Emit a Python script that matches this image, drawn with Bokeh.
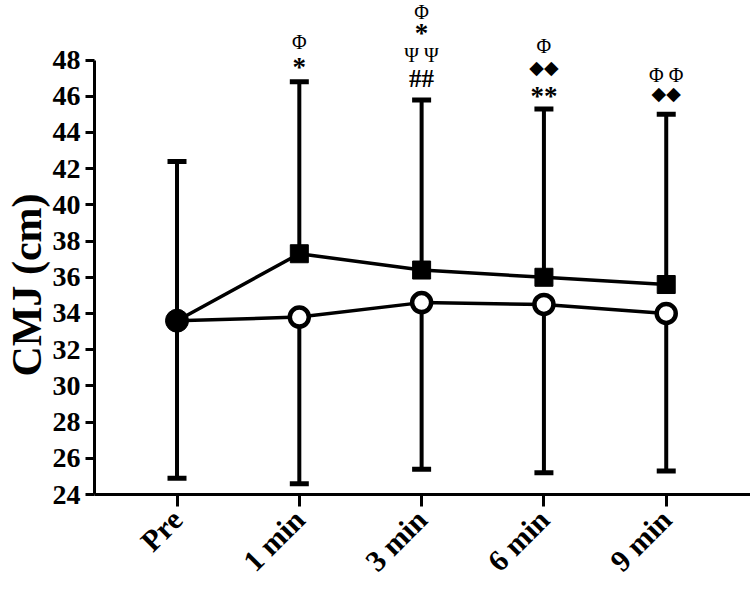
import numpy as np
from bokeh.plotting import figure
from bokeh.models import ColumnDataSource, Range1d, FixedTicker, Whisker, TeeHead, Title
from bokeh.embed import file_html
from bokeh.resources import INLINE

# ---- data ----
categories = ["Pre", "1 min", "3 min", "6 min", "9 min"]
square_mean = [33.6, 37.3, 36.4, 36.0, 35.6]      # filled-square series
square_upper = [42.4, 46.8, 45.8, 45.3, 45.0]     # mean + SD (upper bars)
circle_mean = [33.6, 33.8, 34.6, 34.5, 34.0]      # open-circle series
circle_lower = [24.9, 24.6, 25.4, 25.2, 25.3]     # mean - SD (lower bars)
y_ticks = list(range(24, 49, 2))
y_title = "CMJ (cm)"

# significance annotations: (category index, symbol, level in cm)
ann_cat = [1, 1, 2, 2, 2, 2, 3, 3, 3, 4, 4]
ann_text = ["Φ", "*", "Φ", "*", "Ψ Ψ", "##", "Φ", "◆◆", "**", "Φ Φ", "◆◆"]
ann_level = [49.0, 47.59, 50.63, 49.52, 48.30, 46.98, 48.75, 47.64, 46.04, 47.20, 46.20]

xs = list(range(len(categories)))
SERIF = "Liberation Serif"

p = figure(width=750, height=592,
           x_range=Range1d(-0.6746, 4.689), y_range=Range1d(y_ticks[0], 51.29),
           output_backend="svg", toolbar_location=None,
           min_border_left=94, min_border_right=0, min_border_top=0,
           min_border_bottom=98)
p.outline_line_color = None
p.xgrid.visible = False
p.ygrid.visible = False
p.background_fill_color = "white"
p.border_fill_color = "white"

# error bars
src_sq = ColumnDataSource(dict(x=xs, lo=square_mean, hi=square_upper))
src_ci = ColumnDataSource(dict(x=xs, lo=circle_lower, hi=circle_mean))
w1 = Whisker(source=src_sq, base="x", lower="lo", upper="hi",
             line_width=4, line_color="black",
             upper_head=TeeHead(size=19, line_width=5, line_color="black"),
             lower_head=None, level="underlay")
w2 = Whisker(source=src_ci, base="x", lower="lo", upper="hi",
             line_width=4, line_color="black",
             lower_head=TeeHead(size=19, line_width=5, line_color="black"),
             upper_head=None, level="underlay")
p.add_layout(w1)
p.add_layout(w2)

# lines
p.line(xs, square_mean, line_width=3.5, line_color="black")
p.line(xs, circle_mean, line_width=3.5, line_color="black")

# markers
p.scatter(xs[1:], square_mean[1:], marker="square", size=18, color="black")
p.scatter(xs[1:], circle_mean[1:], marker="circle", size=19,
          fill_color="white", line_color="black", line_width=4.5)
p.scatter(xs[:1], circle_mean[:1], marker="circle", size=23, color="black")

# annotations
fonts, sizes, styles = [], [], []
for t in ann_text:
    if t in ("Φ", "Ψ Ψ", "Φ Φ"):
        fonts.append(SERIF); sizes.append("20px"); styles.append("normal")
    elif "◆" in t:
        fonts.append("DejaVu Sans"); sizes.append("19px"); styles.append("normal")
    elif "*" in t:
        fonts.append(SERIF); sizes.append("27px"); styles.append("bold")
    else:
        fonts.append(SERIF); sizes.append("25px"); styles.append("bold")
ann_src = ColumnDataSource(dict(x=ann_cat, y=ann_level, text=ann_text,
                                font=fonts, size=sizes, style=styles))
p.text(x="x", y="y", text="text", source=ann_src, text_align="center",
       text_baseline="middle", text_font="font", text_font_size="size",
       text_font_style="style", text_color="black")

# axes
for ax in (p.xaxis[0], p.yaxis[0]):
    ax.axis_line_width = 3
    ax.axis_line_color = "black"
    ax.major_tick_line_width = 3
    ax.major_tick_line_color = "black"
    ax.major_tick_in = 0
    ax.minor_tick_line_color = None
    ax.major_label_text_font = SERIF
    ax.major_label_text_font_style = "bold"
    ax.major_label_text_color = "black"

p.yaxis.ticker = FixedTicker(ticks=y_ticks)
p.yaxis.bounds = (y_ticks[0], y_ticks[-1])
p.yaxis.major_tick_out = 9
p.yaxis.major_label_text_font_size = "28px"
p.yaxis.major_label_standoff = 5

p.xaxis.ticker = FixedTicker(ticks=xs)
p.xaxis.major_label_overrides = {i: c for i, c in enumerate(categories)}
p.xaxis.major_label_orientation = np.pi / 4
p.xaxis.major_tick_out = 12
p.xaxis.major_label_text_font_size = "30px"
p.xaxis.major_label_standoff = 8

ylabel = Title(text=y_title, align="left", text_font=SERIF,
               text_font_size="42px", text_font_style="bold",
               text_color="black", offset=118, standoff=0)
p.add_layout(ylabel, "left")

open("out.html", "w").write(file_html(p, INLINE))
